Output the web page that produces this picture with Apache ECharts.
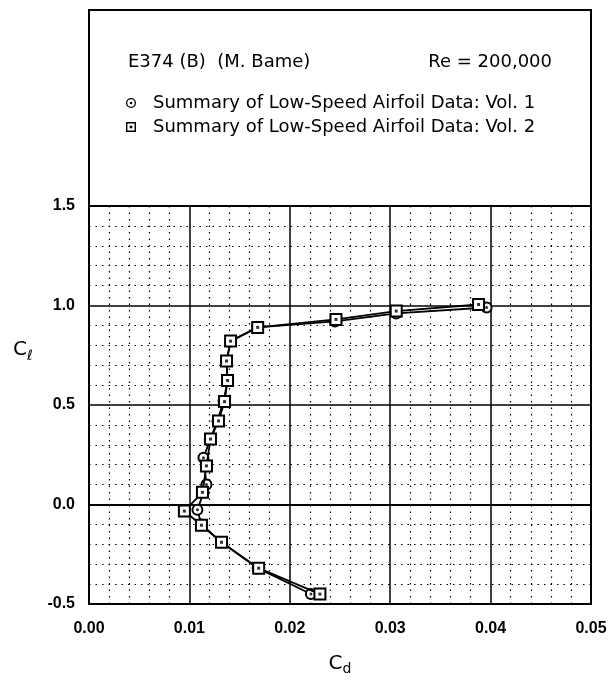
<!DOCTYPE html>
<html>
<head>
<meta charset="utf-8">
<script src="https://cdn.jsdelivr.net/npm/echarts@6/dist/echarts.min.js"></script>
<style>
  html, body { margin: 0; padding: 0; background: #fff; }
  #chart { width: 610px; height: 681px; }
</style>
</head>
<body>
<div id="chart"></div>
<script>
// E374 (B) drag polar at Re = 200,000
const seriesNames = [
  'Summary of Low-Speed Airfoil Data: Vol. 1',
  'Summary of Low-Speed Airfoil Data: Vol. 2'
];

// Vol. 1 (circles)
const cdVol1 = [0.0221, 0.0168, 0.0132, 0.0112, 0.0108, 0.0114, 0.0117, 0.0114, 0.0121, 0.0128, 0.0134, 0.0138, 0.0137, 0.0141, 0.0168, 0.0245, 0.0306, 0.0396];
const clVol1 = [-0.45, -0.32, -0.19, -0.10, -0.027, 0.06, 0.10, 0.235, 0.33, 0.42, 0.52, 0.62, 0.72, 0.82, 0.89, 0.92, 0.96, 0.99];

// Vol. 2 (squares)
const cdVol2 = [0.0230, 0.0169, 0.0132, 0.0112, 0.0095, 0.0113, 0.0117, 0.0121, 0.0129, 0.0135, 0.0138, 0.0137, 0.0141, 0.0168, 0.0246, 0.0306, 0.0388];
const clVol2 = [-0.45, -0.32, -0.19, -0.104, -0.033, 0.061, 0.194, 0.329, 0.42, 0.517, 0.623, 0.721, 0.821, 0.89, 0.93, 0.972, 1.005];

// axis ticks
const cdTicks = [0.00, 0.01, 0.02, 0.03, 0.04, 0.05];
const clTicks = [-0.5, 0.0, 0.5, 1.0, 1.5];

const toPairs = (xs, ys) => xs.map((x, i) => [x, ys[i]]);
const vol1 = toPairs(cdVol1, clVol1);
const vol2 = toPairs(cdVol2, clVol2);

const TEXT_FONT = '"DejaVu Sans", "Liberation Sans", sans-serif';
const LABEL_FONT = '"Liberation Sans", Arial, sans-serif';

// ring-with-dot legend icons (outer ring, hole, centre dot)
const squareIcon = 'path://M0,0H10V10H0Z M1.4,1.4V8.6H8.6V1.4Z M3.7,3.7H6.3V6.3H3.7Z';
const circleIcon = 'path://M5,0A5,5,0,1,1,5,10A5,5,0,1,1,5,0Z M5,1.3A3.7,3.7,0,1,0,5,8.7A3.7,3.7,0,1,0,5,1.3Z M5,3.7A1.3,1.3,0,1,1,5,6.3A1.3,1.3,0,1,1,5,3.7Z';

const chart = echarts.init(document.getElementById('chart'), null, { renderer: 'canvas' });

const GRID = { left: 89, right: 19, top: 206, bottom: 74 };

const option = {
  backgroundColor: '#fff',
  animation: false,
  grid: Object.assign({ show: true, borderColor: '#000', borderWidth: 2, containLabel: false }, GRID),
  graphic: [
    {
      type: 'rect',
      shape: { x: 89, y: 10, width: 502, height: 196 },
      style: { fill: '#fff', stroke: '#000', lineWidth: 2 },
      z: 0
    },
    {
      type: 'text',
      left: 128, top: 53,
      style: { text: 'E374 (B)  (M. Bame)', font: '18px ' + TEXT_FONT, fill: '#000' },
      z: 10
    },
    {
      type: 'text',
      right: 58, top: 53,
      style: { text: 'Re = 200,000', font: '18px ' + TEXT_FONT, fill: '#000' },
      z: 10
    },
    {
      // lift coefficient axis title
      type: 'text',
      left: 13, top: 340,
      style: {
        text: '{c|C}{s|ℓ}',
        rich: {
          c: { fontSize: 20, fontFamily: TEXT_FONT, fill: '#000' },
          s: { fontSize: 14, fontFamily: TEXT_FONT, fill: '#000', padding: [12, 0, 0, 0] }
        }
      },
      z: 10
    }
  ],
  legend: {
    orient: 'vertical',
    left: 126, top: 94,
    padding: 0,
    itemWidth: 10, itemHeight: 10,
    itemGap: 6,
    itemStyle: { borderWidth: 0, color: '#000' },
    data: [
      { name: seriesNames[0], icon: circleIcon },
      { name: seriesNames[1], icon: squareIcon }
    ],
    textStyle: { fontSize: 18, fontFamily: TEXT_FONT, color: '#000', padding: [0, 0, 0, 12] },
    selectedMode: false
  },
  xAxis: {
    type: 'value',
    min: cdTicks[0], max: cdTicks[cdTicks.length - 1], interval: 0.01,
    name: '{c|C}{s|d}',
    nameLocation: 'middle',
    nameGap: 48,
    nameTextStyle: {
      rich: {
        c: { fontSize: 20, fontFamily: TEXT_FONT, color: '#000' },
        s: { fontSize: 14, fontFamily: TEXT_FONT, color: '#000', verticalAlign: 'bottom', padding: [10, 0, 0, 0] }
      }
    },
    axisLine: { show: true, lineStyle: { color: '#000', width: 2 } },
    axisTick: { show: false },
    axisLabel: {
      margin: 17,
      fontSize: 16, fontWeight: 'bold', fontFamily: LABEL_FONT, color: '#000',
      formatter: v => v.toFixed(2)
    },
    splitLine: { show: true, lineStyle: { color: '#000', width: 1.5 } },
    minorTick: { show: false, splitNumber: 5 },
    minorSplitLine: { show: true, lineStyle: { color: '#000', width: 1.2, type: [1.5, 5] } }
  },
  yAxis: {
    type: 'value',
    min: clTicks[0], max: clTicks[clTicks.length - 1], interval: 0.5,
    axisLine: { show: true, lineStyle: { color: '#000', width: 2 } },
    axisTick: { show: false },
    axisLabel: {
      margin: 14,
      fontSize: 16, fontWeight: 'bold', fontFamily: LABEL_FONT, color: '#000',
      formatter: v => v.toFixed(1)
    },
    splitLine: { show: true, lineStyle: { color: '#000', width: 1.5 } },
    minorTick: { show: false, splitNumber: 5 },
    minorSplitLine: { show: true, lineStyle: { color: '#000', width: 1.2, type: [1.5, 5] } }
  },
  series: [
    {
      name: seriesNames[0],
      type: 'line',
      data: vol1,
      symbol: 'emptyCircle',
      symbolSize: 10,
      lineStyle: { color: '#000', width: 1.8 },
      itemStyle: { color: '#000', borderColor: '#000', borderWidth: 1.8 },
      z: 3
    },
    {
      name: 'vol1-centres',
      type: 'scatter',
      data: vol1,
      symbol: 'circle',
      symbolSize: 3,
      itemStyle: { color: '#000' },
      silent: true,
      z: 4
    },
    {
      name: seriesNames[1],
      type: 'line',
      data: vol2,
      symbol: 'emptyRect',
      symbolSize: 11,
      lineStyle: { color: '#000', width: 1.8 },
      itemStyle: { color: '#000', borderColor: '#000', borderWidth: 1.8 },
      z: 5
    },
    {
      name: 'vol2-centres',
      type: 'scatter',
      data: vol2,
      symbol: 'rect',
      symbolSize: 3,
      itemStyle: { color: '#000' },
      silent: true,
      z: 6
    }
  ]
};

chart.setOption(option);
</script>
</body>
</html>
